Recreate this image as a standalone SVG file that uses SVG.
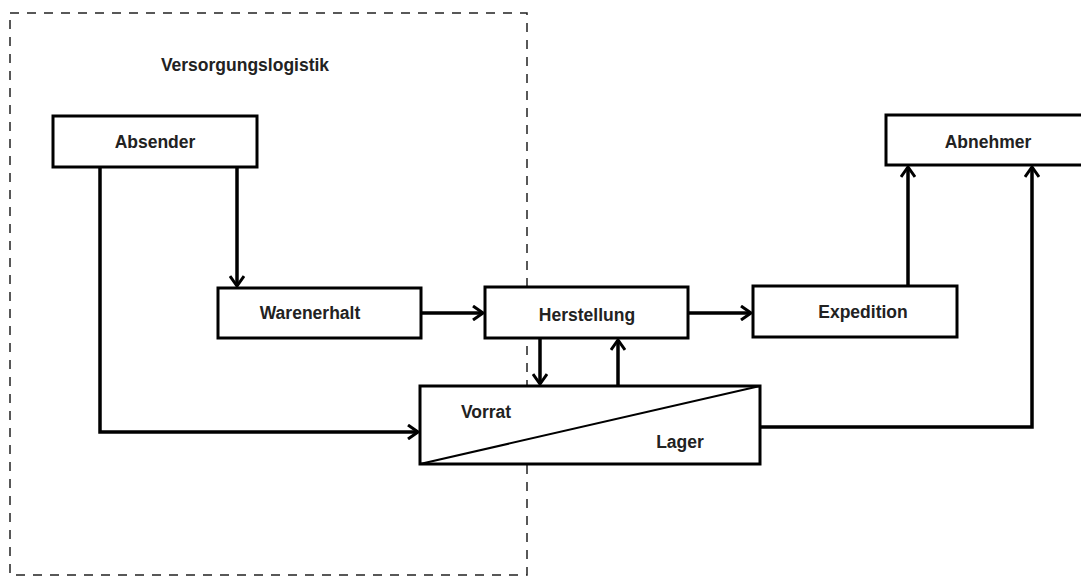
<svg xmlns="http://www.w3.org/2000/svg" width="1081" height="577" viewBox="0 0 1081 577">
<style>
.box{fill:#fff;stroke:#000;stroke-width:3}
.lbl{font-family:"Liberation Sans",Arial,sans-serif;font-weight:bold;font-size:17.5px;fill:#222;text-anchor:middle}
.c{fill:none;stroke:#000;stroke-width:3.5}
.dash{fill:none;stroke:#222;stroke-width:1.5;stroke-dasharray:9 8}
</style>
<defs>
<marker id="ah" viewBox="0 0 16 16" refX="14" refY="8" markerWidth="16" markerHeight="16" markerUnits="userSpaceOnUse" orient="auto">
<path d="M4,1 L14,8 L4,15" fill="none" stroke="#000" stroke-width="3"/>
</marker>
</defs>
<rect width="1081" height="577" fill="#fff"/>
<g id="region">
<rect class="dash" x="10" y="13" width="517" height="562"/>
<text class="lbl" x="245" y="71">Versorgungslogistik</text>
</g>
<g id="connectors">
<path class="c" d="M100,167 V432 H418" marker-end="url(#ah)"/>
<path class="c" d="M237,167 V286" marker-end="url(#ah)"/>
<path class="c" d="M421,313 H483" marker-end="url(#ah)"/>
<path class="c" d="M688,313 H751" marker-end="url(#ah)"/>
<path class="c" d="M540,338 V384" marker-end="url(#ah)"/>
<path class="c" d="M618,386 V340" marker-end="url(#ah)"/>
<path class="c" d="M908,286 V167" marker-end="url(#ah)"/>
<path class="c" d="M760,427 H1032 V167" marker-end="url(#ah)"/>
</g>
<g id="absender">
<rect class="box" x="53" y="116" width="204" height="51"/>
<text class="lbl" x="155" y="148">Absender</text>
</g>
<g id="warenerhalt">
<rect class="box" x="218" y="288" width="203" height="50"/>
<text class="lbl" x="310" y="319">Warenerhalt</text>
</g>
<g id="herstellung">
<rect class="box" x="485" y="287" width="203" height="51"/>
<text class="lbl" x="587" y="321">Herstellung</text>
</g>
<g id="expedition">
<rect class="box" x="753" y="286" width="204" height="51"/>
<text class="lbl" x="863" y="318">Expedition</text>
</g>
<g id="abnehmer">
<rect class="box" x="886" y="115" width="200" height="50"/>
<text class="lbl" x="988" y="148">Abnehmer</text>
</g>
<g id="lager">
<rect class="box" x="420" y="386" width="340" height="78"/>
<line x1="420" y1="464" x2="760" y2="386" stroke="#000" stroke-width="2"/>
<text class="lbl" x="486" y="418">Vorrat</text>
<text class="lbl" x="680" y="448">Lager</text>
</g>
</svg>
